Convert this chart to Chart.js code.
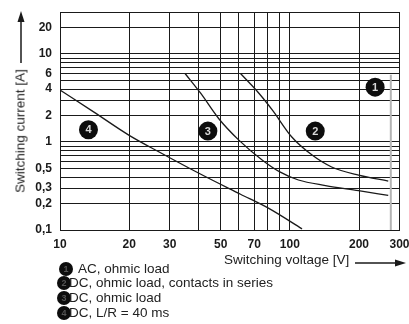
<!DOCTYPE html>
<html>
<head>
<meta charset="utf-8">
<script src="https://cdn.jsdelivr.net/npm/chart.js@4.4.0/dist/chart.umd.min.js"></script>
<style>
  html, body { margin: 0; padding: 0; background: #fff; }
  .wrap { position: relative; width: 409px; height: 324px; font-family: 'Liberation Sans', Arial, sans-serif; color: #222; }
  canvas { position: absolute; left: 0; top: 0; }
  .ytitle { position: absolute; left: 19.5px; top: 130.5px; transform: translate(-50%, -50%) rotate(-90deg); font-size: 13.5px; white-space: nowrap; }
  .xtitle { position: absolute; left: 224px; top: 252px; font-size: 13.5px; white-space: nowrap; }
  .legend { position: absolute; left: 0; top: 0; }
  .row { position: absolute; font-size: 13.5px; white-space: nowrap; line-height: 14px; }
  .dot { position: absolute; width: 14px; height: 14px; border-radius: 50%; background: #0d0d0d; color: #555; font-size: 9px; font-weight: bold; text-align: center; line-height: 14px; }
</style>
</head>
<body>
<div class="wrap">
  <canvas id="chart" width="409" height="324"></canvas>
  <div class="ytitle">Switching current [A]</div>
  <div class="xtitle">Switching voltage [V]</div>
  <div class="legend" id="legend"></div>
</div>
<script>
// axis ticks (grid lines) and their labels
const xTicks = [10, 20, 30, 40, 50, 60, 70, 80, 90, 100, 200, 300];
const xLabels = ['10', '20', '30', '', '50', '', '70', '', '', '100', '200', '300'];
const yTicks = [0.1, 0.2, 0.3, 0.4, 0.5, 0.6, 0.7, 0.8, 0.9, 1, 2, 3, 4, 5, 6, 7, 8, 9, 10, 20, 30];
const yLabels = ['0,1', '0,2', '0,3', '', '0,5', '', '', '', '', '1', '2', '', '4', '', '6', '', '', '', '10', '20', ''];

// curves: switching voltage [V] / switching current [A]
const curve1V = [275, 275];
const curve1I = [5.8, 0.1];
const curve2V = [61, 73.5, 84, 102, 125, 152, 199, 268];
const curve2I = [6.0, 3.56, 2.3, 1.14, 0.71, 0.52, 0.42, 0.36];
const curve3V = [35, 41, 49, 60, 76, 90, 109, 143, 199, 268];
const curve3I = [6.0, 3.56, 1.85, 1.05, 0.62, 0.46, 0.37, 0.32, 0.28, 0.247];
const curve4V = [10, 14, 20, 27, 41, 61, 81, 113];
const curve4I = [3.9, 2.2, 1.19, 0.77, 0.43, 0.255, 0.176, 0.103];

// numbered markers on the curves
const badgeNums = ['1', '2', '3', '4'];
const badgeV = [235, 129, 44, 13.3];
const badgeI = [4.2, 1.33, 1.33, 1.38];

const legendLabels = ['AC, ohmic load', 'DC, ohmic load, contacts in series', 'DC, ohmic load', 'DC, L/R = 40 ms'];

const ink = '#1a1a1a';
const tickFont = { family: "'Liberation Sans', Arial, sans-serif", size: 12, weight: 'bold' };

function pts(xs, ys) {
  return xs.map((v, i) => ({ x: v, y: ys[i] }));
}

function curve(xs, ys, color, width, smooth) {
  return {
    data: pts(xs, ys),
    showLine: true,
    borderColor: color,
    borderWidth: width,
    pointRadius: 0,
    tension: smooth ? 0.4 : 0,
    cubicInterpolationMode: smooth ? 'monotone' : 'default',
  };
}

// legend under the plot
const legend = document.getElementById('legend');
const rowY = [269.3, 283.3, 298.3, 313.3];
legendLabels.forEach((txt, i) => {
  const dot = document.createElement('div');
  dot.className = 'dot';
  dot.textContent = badgeNums[i];
  dot.style.left = (i === 0 ? 59 : 57) + 'px';
  dot.style.top = (rowY[i] - 7) + 'px';
  legend.appendChild(dot);
  const row = document.createElement('div');
  row.className = 'row';
  row.textContent = txt;
  row.style.left = (i === 0 ? 78 : 69) + 'px';
  row.style.top = (rowY[i] - 7) + 'px';
  legend.appendChild(row);
});

// badge numbers + axis arrows
const decorPlugin = {
  id: 'decor',
  afterDatasetsDraw(chart) {
    const { ctx, scales } = chart;
    ctx.save();
    ctx.font = "bold 11px 'Liberation Sans', Arial, sans-serif";
    ctx.fillStyle = '#d8d8d8';
    ctx.textAlign = 'center';
    ctx.textBaseline = 'middle';
    badgeNums.forEach((n, i) => {
      ctx.fillText(n, scales.x.getPixelForValue(badgeV[i]), scales.y.getPixelForValue(badgeI[i]) + 0.5);
    });
    ctx.restore();
  },
  afterDraw(chart) {
    const ctx = chart.ctx;
    ctx.save();
    ctx.strokeStyle = ink;
    ctx.fillStyle = ink;
    ctx.lineWidth = 1.5;
    // y arrow
    ctx.beginPath();
    ctx.moveTo(21, 63);
    ctx.lineTo(21, 20);
    ctx.stroke();
    ctx.beginPath();
    ctx.moveTo(21, 11);
    ctx.lineTo(17.5, 22);
    ctx.lineTo(24.5, 22);
    ctx.closePath();
    ctx.fill();
    // x arrow
    ctx.beginPath();
    ctx.moveTo(355, 263);
    ctx.lineTo(397, 263);
    ctx.stroke();
    ctx.beginPath();
    ctx.moveTo(406, 263);
    ctx.lineTo(395, 259.5);
    ctx.lineTo(395, 266.5);
    ctx.closePath();
    ctx.fill();
    ctx.restore();
  }
};

new Chart(document.getElementById('chart'), {
  type: 'scatter',
  data: {
    datasets: [
      {
        data: pts(badgeV, badgeI),
        pointRadius: 9.5,
        pointBackgroundColor: '#0d0d0d',
        pointBorderColor: '#0d0d0d',
        pointBorderWidth: 0,
      },
      curve(curve1V, curve1I, '#b4b4b4', 2, false),
      curve(curve2V, curve2I, ink, 1.3, true),
      curve(curve3V, curve3I, ink, 1.3, true),
      curve(curve4V, curve4I, ink, 1.3, true),
    ]
  },
  options: {
    responsive: false,
    animation: false,
    events: [],
    layout: { padding: { top: 12, right: 8, left: 0, bottom: 0 } },
    plugins: { legend: { display: false }, tooltip: { enabled: false } },
    scales: {
      x: {
        type: 'logarithmic',
        min: 10,
        max: 300,
        afterBuildTicks: s => { s.ticks = xTicks.map(v => ({ value: v })); },
        afterFit: s => { s.height = 94; s.paddingLeft = 0; s.paddingRight = 0; },
        ticks: { autoSkip: false, maxRotation: 0, padding: 7, color: ink, font: tickFont, callback: (v, i) => xLabels[i] },
        grid: { color: ink, lineWidth: 1, drawTicks: false },
        border: { color: ink, width: 1 }
      },
      y: {
        type: 'logarithmic',
        min: 0.1,
        max: 30,
        afterBuildTicks: s => { s.ticks = yTicks.map(v => ({ value: v })); },
        afterFit: s => { s.width = 60; s.paddingTop = 0; s.paddingBottom = 0; },
        ticks: { autoSkip: false, padding: 8, color: ink, font: tickFont, callback: (v, i) => yLabels[i] },
        grid: { color: ink, lineWidth: 1, drawTicks: false },
        border: { color: ink, width: 1 }
      }
    }
  },
  plugins: [decorPlugin]
});
</script>
</body>
</html>
